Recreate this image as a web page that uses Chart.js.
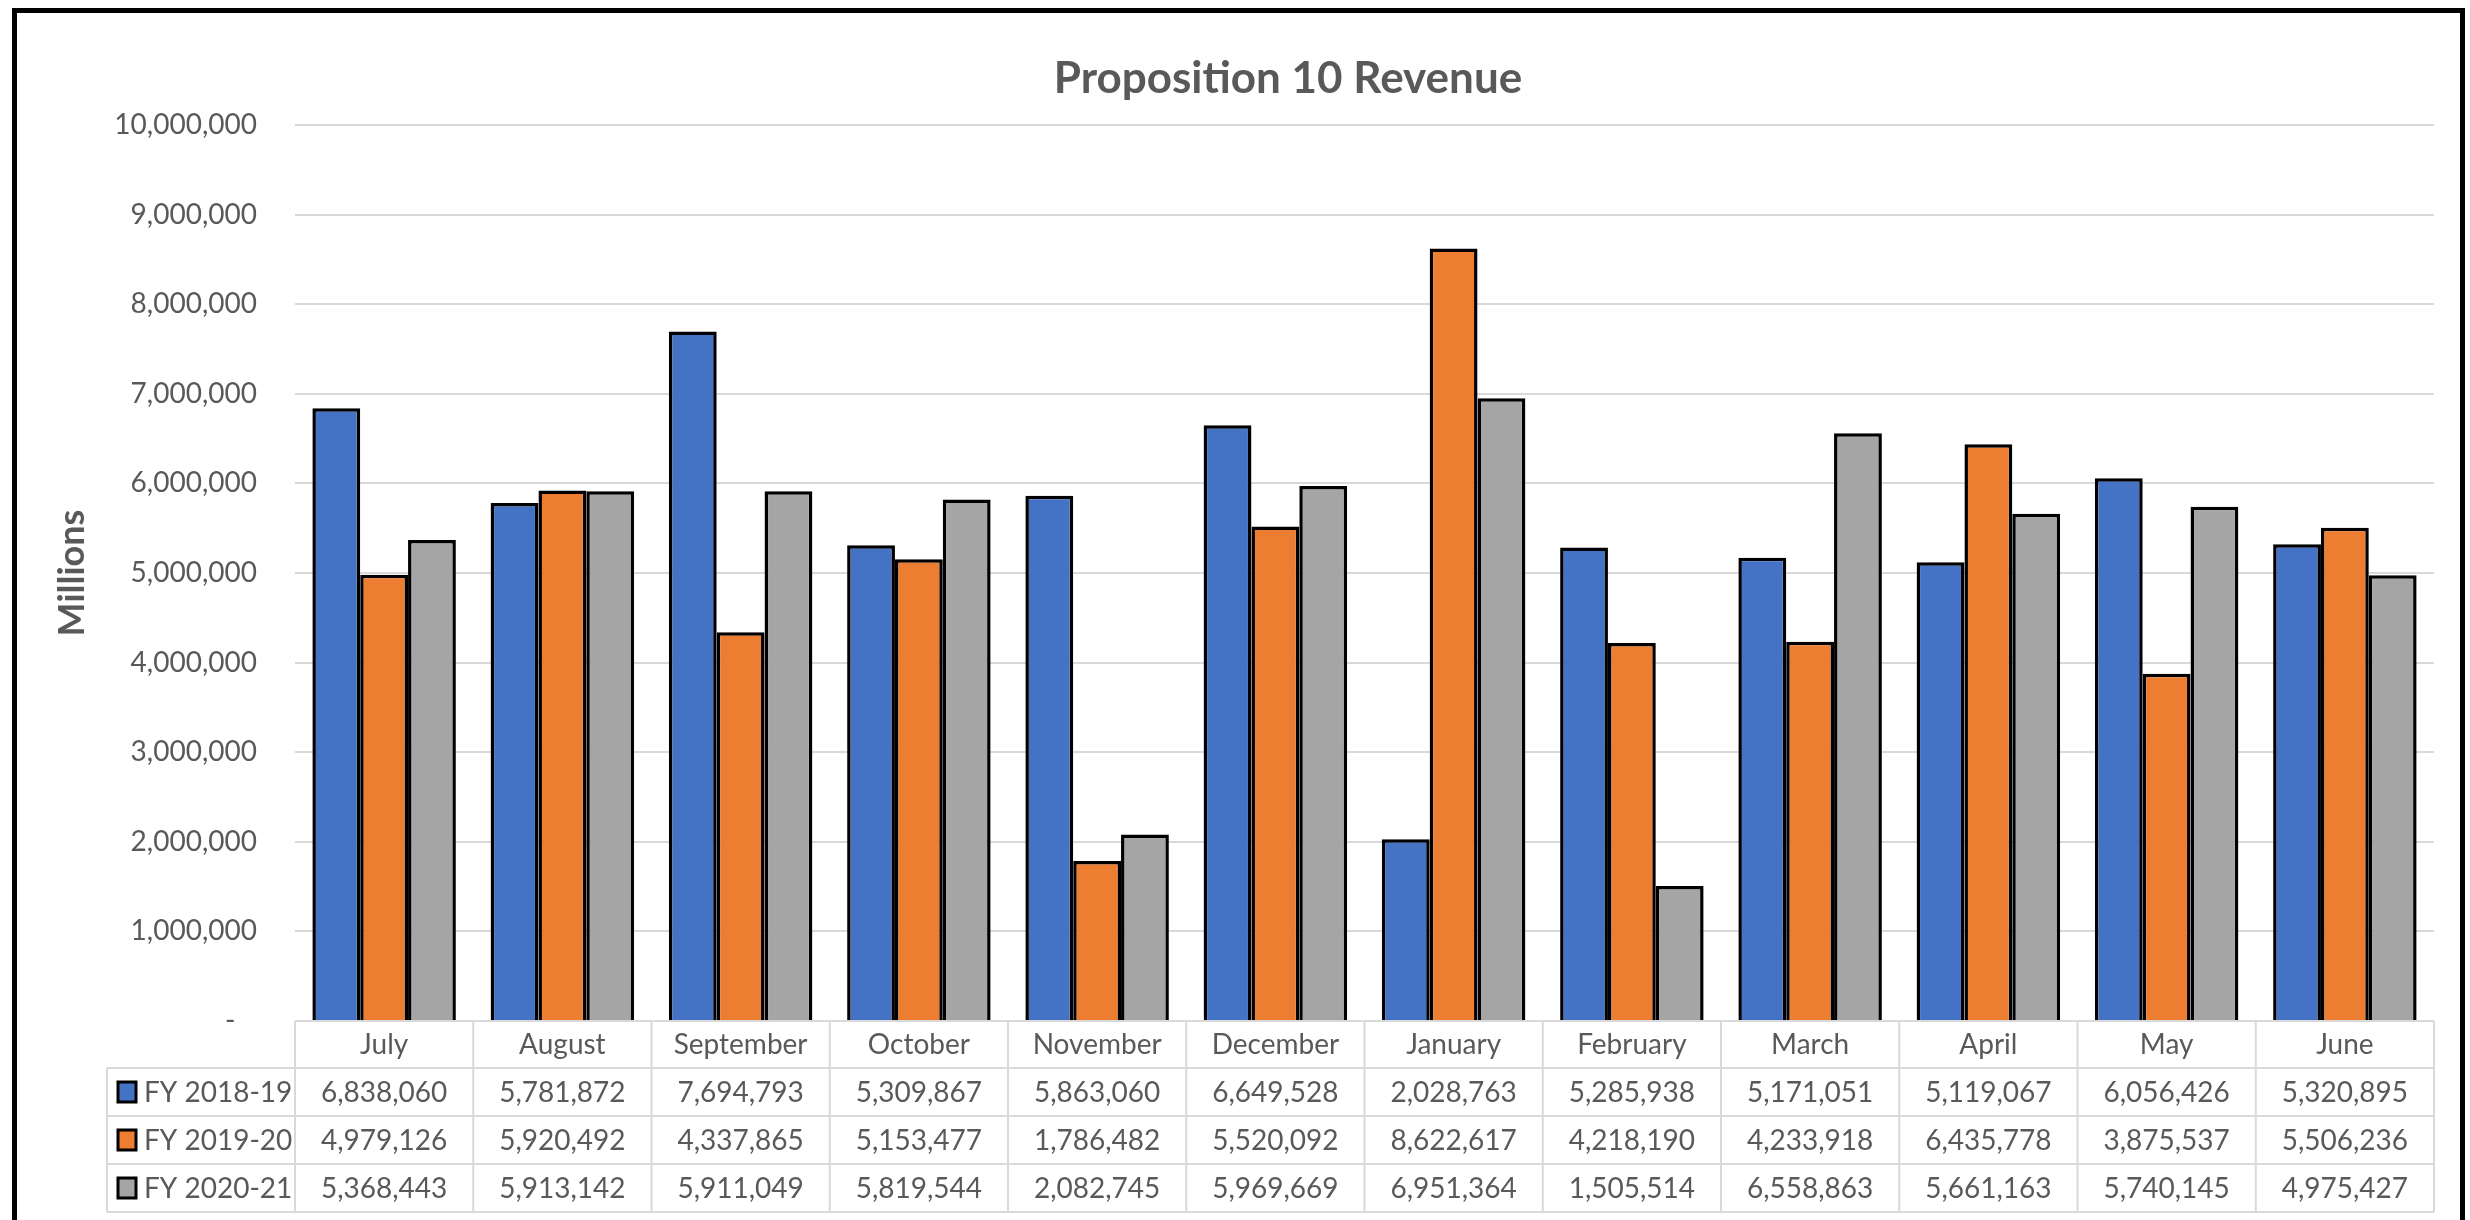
<!DOCTYPE html>
<html>
<head>
<meta charset="utf-8">
<title>Proposition 10 Revenue</title>
<script src="https://cdn.jsdelivr.net/npm/chart.js@4.4.1/dist/chart.umd.min.js"></script>
<style>
  html, body { margin: 0; padding: 0; background: #ffffff; }
  canvas { display: block; }
</style>
</head>
<body>
<canvas id="chart" width="2470" height="1220"></canvas>
<script>
// Monthly revenue by fiscal year
const months = ['July', 'August', 'September', 'October', 'November', 'December',
                'January', 'February', 'March', 'April', 'May', 'June'];
const seriesNames = ['FY 2018-19', 'FY 2019-20', 'FY 2020-21'];
const fy2018 = [6838060, 5781872, 7694793, 5309867, 5863060, 6649528,
                2028763, 5285938, 5171051, 5119067, 6056426, 5320895];
const fy2019 = [4979126, 5920492, 4337865, 5153477, 1786482, 5520092,
                8622617, 4218190, 4233918, 6435778, 3875537, 5506236];
const fy2020 = [5368443, 5913142, 5911049, 5819544, 2082745, 5969669,
                6951364, 1505514, 6558863, 5661163, 5740145, 4975427];
const yTicks = [0, 1000000, 2000000, 3000000, 4000000, 5000000,
                6000000, 7000000, 8000000, 9000000, 10000000];

const seriesColors = ['#4472C4', '#ED7D31', '#A5A5A5'];
const textColor = '#595959';
const lineColor = '#D9D9D9';
const fontFamily = "Lato, 'Open Sans', sans-serif";
const fmt = v => v.toLocaleString('en-US');

// Frame, title and the data table under the plot
const decorations = {
  id: 'decorations',
  afterDraw(chart) {
    const { ctx, chartArea, scales } = chart;
    const x = scales.x;
    const colW = (chartArea.right - chartArea.left) / months.length;
    const rowH = 48;
    const top = chartArea.bottom;
    const legendLeft = 107;
    const rows = [fy2018, fy2019, fy2020];
    const tableBottom = top + 47 + rows.length * rowH;

    ctx.save();
    // outer frame
    ctx.strokeStyle = '#000000';
    ctx.lineWidth = 5;
    ctx.strokeRect(14.5, 10.5, 2448, 1240);

    // title
    ctx.fillStyle = textColor;
    ctx.font = 'bold 44px ' + fontFamily;
    ctx.textAlign = 'center';
    ctx.textBaseline = 'alphabetic';
    ctx.fillText('Proposition 10 Revenue', 1288, 93);

    // table grid
    ctx.strokeStyle = lineColor;
    ctx.lineWidth = 2;
    ctx.beginPath();
    ctx.moveTo(chartArea.left, top); ctx.lineTo(chartArea.right, top);
    for (let r = 0; r <= rows.length; r++) {
      const y = top + 47 + r * rowH;
      ctx.moveTo(legendLeft, y); ctx.lineTo(chartArea.right, y);
    }
    for (let c = 0; c <= months.length; c++) {
      const xx = c < months.length ? x.getPixelForValue(c) - colW / 2 : x.getPixelForValue(c - 1) + colW / 2;
      ctx.moveTo(xx, top); ctx.lineTo(xx, tableBottom);
    }
    ctx.moveTo(legendLeft, top + 47); ctx.lineTo(legendLeft, tableBottom);
    ctx.stroke();

    // header and values
    ctx.fillStyle = textColor;
    ctx.font = '28px ' + fontFamily;
    ctx.textAlign = 'center';
    months.forEach((m, i) => {
      const cx = x.getPixelForValue(i);
      ctx.fillText(m, cx, top + 33);
      rows.forEach((vals, r) => {
        ctx.fillText(fmt(vals[i]), cx, top + 47 + r * rowH + 34);
      });
    });

    // series keys
    ctx.textAlign = 'left';
    seriesNames.forEach((name, r) => {
      const cy = top + 47 + r * rowH + rowH / 2;
      ctx.fillStyle = seriesColors[r];
      ctx.fillRect(118, cy - 10, 18, 20);
      ctx.strokeStyle = '#000000';
      ctx.lineWidth = 3;
      ctx.strokeRect(118, cy - 10, 18, 20);
      ctx.fillStyle = textColor;
      ctx.fillText(name, 144, cy + 10);
    });
    ctx.restore();
  }
};

new Chart(document.getElementById('chart'), {
  type: 'bar',
  data: {
    labels: months,
    datasets: [
      { label: seriesNames[0], data: fy2018, backgroundColor: seriesColors[0] },
      { label: seriesNames[1], data: fy2019, backgroundColor: seriesColors[1] },
      { label: seriesNames[2], data: fy2020, backgroundColor: seriesColors[2] }
    ]
  },
  options: {
    responsive: false,
    animation: false,
    devicePixelRatio: 1,
    layout: { padding: { left: 20, top: 125, right: 36, bottom: 199 } },
    datasets: {
      bar: {
        borderColor: '#000000',
        borderWidth: 3.5,
        categoryPercentage: 0.805,
        barPercentage: 1.0
      }
    },
    plugins: {
      legend: { display: false },
      tooltip: { enabled: false },
      title: { display: false }
    },
    scales: {
      x: {
        display: false,
        grid: { display: false }
      },
      y: {
        min: 0,
        max: 10000000,
        afterBuildTicks(scale) { scale.ticks = yTicks.map(v => ({ value: v })); },
        afterFit(scale) { scale.width = 275; },
        border: { display: false },
        grid: { color: lineColor, lineWidth: 2, drawTicks: false },
        ticks: {
          padding: 38,
          color: textColor,
          font: { family: fontFamily, size: 28 },
          callback: v => (v === 0 ? '-   ' : fmt(v))
        },
        title: {
          display: true,
          text: 'Millions',
          color: textColor,
          font: { family: fontFamily, size: 36, weight: 'bold', lineHeight: 1.2 },
          padding: { top: 31, bottom: 0 }
        }
      }
    }
  },
  plugins: [decorations]
});
</script>
</body>
</html>
